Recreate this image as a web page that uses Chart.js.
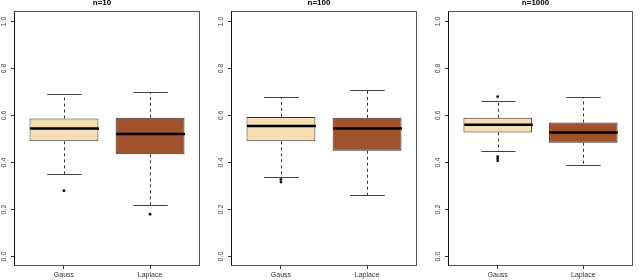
<!DOCTYPE html>
<html>
<head>
<meta charset="utf-8">
<script src="https://cdn.jsdelivr.net/npm/chart.js@4.4.1/dist/chart.umd.min.js"></script>
<style>
  html, body { margin: 0; padding: 0; background: #fff; }
  #wrap { position: relative; width: 640px; height: 280px; overflow: hidden; }
  #wrap canvas { position: absolute; top: 0; }
</style>
</head>
<body>
<div id="wrap">
  <canvas id="c0" width="204" height="280" style="left:0px"></canvas>
  <canvas id="c1" width="204" height="280" style="left:217px"></canvas>
  <canvas id="c2" width="203" height="280" style="left:434px"></canvas>
</div>
<script>
// one panel per sample size, two groups per panel
const groups = ['Gauss', 'Laplace'];
const titles = ['n=10', 'n=100', 'n=1000'];
const yTicks = [0, 0.2, 0.4, 0.6, 0.8, 1.0];

// [Gauss, Laplace] for each panel
const whiskerLow  = [[0.35, 0.22],  [0.34, 0.26],  [0.45, 0.39]];
const quart1      = [[0.49, 0.435], [0.49, 0.45],  [0.528, 0.484]];
const medians     = [[0.545, 0.521],[0.555, 0.545],[0.561, 0.528]];
const quart3      = [[0.587, 0.59], [0.594, 0.59], [0.59, 0.57]];
const whiskerHigh = [[0.69, 0.70],  [0.68, 0.71],  [0.66, 0.68]];
const outliersGauss   = [[0.28], [0.328, 0.317], [0.68, 0.425, 0.416, 0.407]];
const outliersLaplace = [[0.18], [], []];

const boxFill = ['#F5DEB3', '#A0522D'];
const FONT = '"Liberation Sans", Arial, Helvetica, sans-serif';

function makeBoxPlugin(p) {
  return {
    id: 'boxExtras' + p,
    beforeDatasetsDraw(chart) {
      const ctx = chart.ctx;
      const a = chart.chartArea;
      ctx.save();
      ctx.strokeStyle = '#555';
      ctx.lineWidth = 1;
      ctx.strokeRect(a.left + 0.5, a.top - 0.5, a.right - a.left - 1, a.bottom - a.top);
      ctx.strokeStyle = '#111';
      ctx.beginPath();
      ctx.moveTo(a.left + 0.5, a.top - 0.5);
      ctx.lineTo(a.left + 0.5, a.bottom - 0.5);
      ctx.stroke();
      ctx.restore();
    },
    afterDatasetsDraw(chart) {
      const ctx = chart.ctx;
      const xs = chart.scales.x, ys = chart.scales.y;
      const bars = chart.getDatasetMeta(0).data;
      ctx.save();
      groups.forEach((g, j) => {
        const cx = Math.round(xs.getPixelForValue(j + 1)) + 0.5;
        const half = bars[j].width / 2;
        const cap = half / 2;
        const yLo = Math.round(ys.getPixelForValue(whiskerLow[p][j])) + 0.5;
        const yHi = Math.round(ys.getPixelForValue(whiskerHigh[p][j])) + 0.5;
        const yQ1 = ys.getPixelForValue(quart1[p][j]);
        const yQ3 = ys.getPixelForValue(quart3[p][j]);
        const yMed = ys.getPixelForValue(medians[p][j]);

        // dashed whiskers
        ctx.strokeStyle = '#333';
        ctx.lineWidth = 1;
        ctx.setLineDash([3, 3]);
        ctx.beginPath();
        ctx.moveTo(cx, yQ3); ctx.lineTo(cx, yHi);
        ctx.moveTo(cx, yQ1); ctx.lineTo(cx, yLo);
        ctx.stroke();

        // staples
        ctx.setLineDash([]);
        ctx.strokeStyle = '#444';
        ctx.beginPath();
        ctx.moveTo(cx - cap, yHi); ctx.lineTo(cx + cap, yHi);
        ctx.moveTo(cx - cap, yLo); ctx.lineTo(cx + cap, yLo);
        ctx.stroke();

        // median
        ctx.strokeStyle = '#000';
        ctx.lineWidth = 2.5;
        ctx.beginPath();
        ctx.moveTo(cx - half, yMed); ctx.lineTo(cx + half, yMed);
        ctx.stroke();
      });
      ctx.restore();
    }
  };
}

titles.forEach((title, p) => {
  const boxes = groups.map((g, j) => ({ x: j + 1, y: [quart1[p][j], quart3[p][j]] }));
  const outPts = [];
  outliersGauss[p].forEach(v => outPts.push({ x: 1, y: v }));
  outliersLaplace[p].forEach(v => outPts.push({ x: 2, y: v }));

  new Chart(document.getElementById('c' + p), {
    type: 'bar',
    data: {
      datasets: [
        {
          type: 'bar',
          data: boxes,
          backgroundColor: boxFill,
          borderColor: '#333',
          borderWidth: 1,
          borderSkipped: false,
          barPercentage: 1,
          categoryPercentage: 0.8,
          order: 2
        },
        {
          type: 'scatter',
          data: outPts,
          pointRadius: 1.4,
          pointBackgroundColor: '#111',
          pointBorderWidth: 0,
          order: 1
        }
      ]
    },
    options: {
      responsive: false,
      animation: false,
      events: [],
      layout: { padding: 0 },
      plugins: {
        legend: { display: false },
        tooltip: { enabled: false },
        title: {
          display: true,
          text: title,
          color: '#000',
          font: { family: FONT, size: 8, weight: 'bold' },
          padding: { top: -2, bottom: 4.4 }
        }
      },
      scales: {
        x: {
          type: 'linear',
          offset: false,
          min: 0.42,
          max: 2.58,
          afterBuildTicks: s => { s.ticks = groups.map((g, j) => ({ value: j + 1 })); },
          afterFit: s => { s.height = 14; },
          border: { display: false },
          grid: { offset: false, drawOnChartArea: false, tickLength: 3, color: '#333' },
          ticks: {
            autoSkip: false,
            maxRotation: 0,
            padding: 2,
            color: '#333',
            font: { family: FONT, size: 7 },
            callback: (v, i) => groups[i]
          }
        },
        y: {
          type: 'linear',
          min: -0.04,
          max: 1.04,
          afterBuildTicks: s => { s.ticks = yTicks.map(v => ({ value: v })); },
          afterFit: s => { s.width = 14; },
          border: { display: false },
          grid: { drawOnChartArea: false, tickLength: 3, color: '#333' },
          ticks: {
            minRotation: 90,
            maxRotation: 90,
            crossAlign: 'center',
            padding: 2,
            color: '#444',
            font: { family: FONT, size: 7 },
            callback: v => v.toFixed(1)
          }
        }
      }
    },
    plugins: [makeBoxPlugin(p)]
  });
});
</script>
</body>
</html>
